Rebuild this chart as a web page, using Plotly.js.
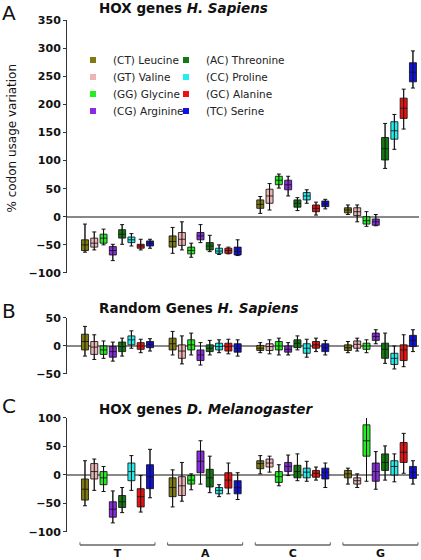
<!DOCTYPE html>
<html><head><meta charset="utf-8">
<script src="https://cdn.plot.ly/plotly-3.0.1.min.js"></script>
<style>html,body{margin:0;padding:0;background:#fff}#chart{width:421px;height:560px}</style>
</head><body><div id="chart"></div>
<script>
// ---------- data ----------
const groups = ['T', 'A', 'C', 'G'];
const series = ['(CT) Leucine', '(GT) Valine', '(GG) Glycine', '(CG) Arginine',
                '(AC) Threonine', '(CC) Proline', '(GC) Alanine', '(TC) Serine'];
const colors = ['#7f7a12', '#ecb4b4', '#22ee22', '#8a2be2', '#127a12', '#22eeee', '#ee1111', '#1111dd'];
const panelTitles = ['HOX genes <i>H. Sapiens</i>', 'Random Genes <i>H. Sapiens</i>', 'HOX genes <i>D. Melanogaster</i>'];
const panelLetters = ['A', 'B', 'C'];

// Panel A: HOX genes H. Sapiens  (rows = series, cols = T, A, C, G)
const A_lo  = [[-63,-65,6,4],[-59,-59,12,-9],[-50,-72,51,-17],[-78,-46,37,-16],[-49,-62,11,86],[-52,-67,24,120],[-59,-66,3,156],[-56,-69,14,229]];
const A_q1  = [[-60,-54,15,7],[-54,-51,24,2],[-47,-66,57,-13],[-68,-41,48,-15],[-38,-59,17,101],[-46,-65,30,138],[-56,-65,9,175],[-52,-68,18,240]];
const A_med = [[-50,-44,22,12],[-47,-40,37,9],[-38,-60,65,-7],[-60,-34,57,-9],[-31,-52,24,121],[-41,-61,37,153],[-52,-60,15,193],[-47,-62,23,257]];
const A_q3  = [[-41,-34,30,16],[-38,-28,49,16],[-31,-54,72,0],[-53,-28,65,-4],[-23,-46,30,141],[-36,-56,43,169],[-49,-56,21,211],[-43,-54,28,274]];
const A_hi  = [[-13,-19,36,21],[-27,-9,59,21],[-22,-47,76,9],[-49,-14,72,4],[-14,-33,34,166],[-30,-50,48,182],[-40,-54,26,227],[-40,-41,31,295]];

// Panel B: Random genes H. Sapiens
const B_lo  = [[-18,-16,-12,-12],[-24,-32,-14,-9],[-22,-16,-16,-12],[-27,-34,-16,4],[-18,-16,-7,-31],[-4,-12,-20,-41],[-12,-14,-10,-37],[-9,-18,-16,-10]];
const B_q1  = [[-7,-7,-8,-8],[-15,-22,-8,-4],[-15,-7,-7,-6],[-20,-26,-11,10],[-10,-10,-3,-22],[2,-7,-13,-33],[-6,-9,-4,-26],[-3,-11,-10,-1]];
const B_med = [[8,4,-4,-3],[-2,-9,-1,3],[-7,2,0,0],[-10,-16,-6,17],[-1,-4,5,-6],[11,-1,-4,-22],[0,-1,2,-7],[3,-4,-3,10]];
const B_q3  = [[21,14,1,2],[8,2,4,9],[0,11,8,5],[-1,-7,0,23],[7,2,11,5],[18,5,4,-13],[6,5,8,2],[8,4,4,19]];
const B_hi  = [[35,26,6,8],[20,18,11,14],[9,23,14,11],[7,6,6,29],[14,10,18,23],[27,11,12,0],[12,12,14,20],[13,11,10,29]];

// Panel C: HOX genes D. Melanogaster
const C_lo  = [[-54,-56,2,-16],[-27,-46,5,-22],[-29,-26,-19,-11],[-84,-16,-1,-25],[-66,-31,-10,-9],[-27,-38,-11,-12],[-65,-33,-9,3],[-40,-43,-22,-16]];
const C_q1  = [[-44,-38,11,-5],[-7,-36,14,-16],[-17,-16,-13,33],[-74,4,6,-11],[-57,-21,-5,8],[-10,-33,-5,0],[-56,-23,-4,22],[-24,-33,-7,-6]];
const C_med = [[-25,-22,20,2],[6,-19,21,-10],[-5,-9,-3,60],[-60,24,15,6],[-47,-5,6,22],[6,-27,5,15],[-38,-9,3,40],[-3,-22,5,5]];
const C_q3  = [[-7,-5,25,8],[20,-3,28,-5],[6,-1,6,88],[-47,42,22,21],[-36,10,17,37],[21,-22,12,25],[-24,4,8,57],[18,-10,12,15]];
const C_hi  = [[25,9,34,12],[28,22,33,2],[15,2,18,101],[-28,60,35,41],[-22,33,37,51],[34,-17,24,37],[-1,21,14,73],[45,4,21,25]];

// ---------- build ----------
const panels = [
  {ax: '',  lo: A_lo, q1: A_q1, med: A_med, q3: A_q3, hi: A_hi},
  {ax: '2', lo: B_lo, q1: B_q1, med: B_med, q3: B_q3, hi: B_hi},
  {ax: '3', lo: C_lo, q1: C_q1, med: C_med, q3: C_q3, hi: C_hi}
];
const SLOT = 0.106, BOXW = 0.08;
const FONT = 'DejaVu Sans, Verdana, sans-serif';
const traces = [];
panels.forEach(p => {
  series.forEach((name, s) => {
    const xs = groups.map((g, gi) => gi + (s - 3.5) * SLOT);
    traces.push({
      type: 'box', xaxis: 'x' + p.ax, yaxis: 'y' + p.ax, name: name,
      x: xs, q1: p.q1[s], median: p.med[s], q3: p.q3[s],
      lowerfence: p.lo[s], upperfence: p.hi[s],
      width: BOXW, whiskerwidth: 0, boxpoints: false,
      fillcolor: colors[s], line: {color: 'rgba(20,20,20,0.85)', width: 1},
      showlegend: false, hoverinfo: 'skip'
    });
    traces.push({
      type: 'scatter', mode: 'markers', xaxis: 'x' + p.ax, yaxis: 'y' + p.ax,
      x: xs, y: p.med[s],
      marker: {size: 1, color: 'rgba(0,0,0,0)'},
      error_y: {type: 'data', symmetric: false,
        array: p.hi[s].map((v, i) => v - p.med[s][i]),
        arrayminus: p.lo[s].map((v, i) => p.med[s][i] - v),
        color: '#111', thickness: 1, width: 2},
      showlegend: false, hoverinfo: 'skip'
    });
  });
});
// legend entries: one horizontal legend per row, two columns
const legendIds = ['legend', 'legend2', 'legend3', 'legend4'];
const legendOrder = [0, 4, 1, 5, 2, 6, 3, 7];
legendOrder.forEach((s, k) => {
  traces.push({
    type: 'scatter', mode: 'markers', x: [null], y: [null], name: series[s],
    marker: {symbol: 'square', size: 6, color: colors[s]},
    legend: legendIds[s % 4], legendwidth: s < 4 ? 48 : 110,
    showlegend: true, hoverinfo: 'skip'
  });
});

const XR = [-0.576, 3.44];
const hiddenX = {range: XR, visible: false, fixedrange: true};
const yBase = {
  showgrid: false, zeroline: true, zerolinecolor: '#888', zerolinewidth: 1.5,
  showline: true, linecolor: '#333', linewidth: 1, ticks: 'outside', ticklen: 3,
  tickcolor: '#333', tickfont: {family: FONT, size: 11, color: '#111', weight: 'bold'},
  fixedrange: true
};
const legBase = {
  xanchor: 'left', yanchor: 'top', bgcolor: 'rgba(0,0,0,0)', borderwidth: 0,
  font: {family: FONT, size: 10.5, color: '#222'}, tracegroupgap: 0, itemwidth: 30,
  orientation: 'h', entrywidthmode: 'pixels', x: 0.017
};
const legendTops = [0.9502, 0.9170, 0.8838, 0.8506];

// bracket shapes under the categories of panel C
const shapes = [];
groups.forEach((g, gi) => {
  shapes.push({type: 'line', xref: 'x3', yref: 'paper', x0: gi - 0.428, x1: gi + 0.428, y0: -0.0254, y1: -0.0254, line: {color: '#666', width: 1.3}});
  shapes.push({type: 'line', xref: 'x3', yref: 'paper', x0: gi - 0.428, x1: gi - 0.428, y0: -0.0254, y1: -0.020, line: {color: '#666', width: 1}});
  shapes.push({type: 'line', xref: 'x3', yref: 'paper', x0: gi + 0.428, x1: gi + 0.428, y0: -0.0254, y1: -0.020, line: {color: '#666', width: 1}});
});

const titleY = [1.0234, 0.4375, 0.2412];
const letterY = [1.0127, 0.4307, 0.247];
const annotations = [];
panelTitles.forEach((t, i) => {
  annotations.push({text: t, xref: 'paper', yref: 'paper', x: 0.085, y: titleY[i], xanchor: 'left', yanchor: 'middle', showarrow: false,
    font: {family: FONT, size: 13.5, color: '#111', weight: 'bold'}});
  annotations.push({text: panelLetters[i], xref: 'paper', yref: 'paper', x: -0.19, y: letterY[i], xanchor: 'left', yanchor: 'middle', showarrow: false,
    font: {family: FONT, size: 20, color: '#111'}});
});
annotations.push({text: '% codon usage variation', xref: 'paper', yref: 'paper', x: -0.156, y: 0.7686, xanchor: 'center', yanchor: 'middle',
  textangle: -90, showarrow: false, font: {family: FONT, size: 12, color: '#111'}});

const layout = {
  width: 421, height: 560, margin: {l: 67, r: 2, t: 20, b: 28},
  paper_bgcolor: '#fff', plot_bgcolor: '#fff',
  font: {family: FONT, size: 11, color: '#111'},
  xaxis: Object.assign({}, hiddenX, {anchor: 'y'}),
  xaxis2: Object.assign({}, hiddenX, {anchor: 'y2'}),
  xaxis3: {range: XR, anchor: 'y3', showgrid: false, zeroline: false, showline: false, ticks: '',
    tickvals: [0, 1, 2, 3], ticktext: groups, ticklabelstandoff: 13,
    tickfont: {family: FONT, size: 11, color: '#111', weight: 'bold'}, fixedrange: true},
  yaxis: Object.assign({}, yBase, {domain: [0.5059, 1], range: [-100, 350], tickvals: [-100, -50, 0, 50, 100, 150, 200, 250, 300, 350]}),
  yaxis2: Object.assign({}, yBase, {domain: [0.3086, 0.418], range: [-50, 50], tickvals: [-50, 0, 50]}),
  yaxis3: Object.assign({}, yBase, {domain: [0, 0.2227], range: [-100, 100], tickvals: [-100, -50, 0, 50, 100]}),
  shapes: shapes, annotations: annotations, showlegend: true
};
legendIds.forEach((id, r) => { layout[id] = Object.assign({}, legBase, {y: legendTops[r]}); });
Plotly.newPlot('chart', traces, layout, {displayModeBar: false, staticPlot: true});
</script>
</body></html>
